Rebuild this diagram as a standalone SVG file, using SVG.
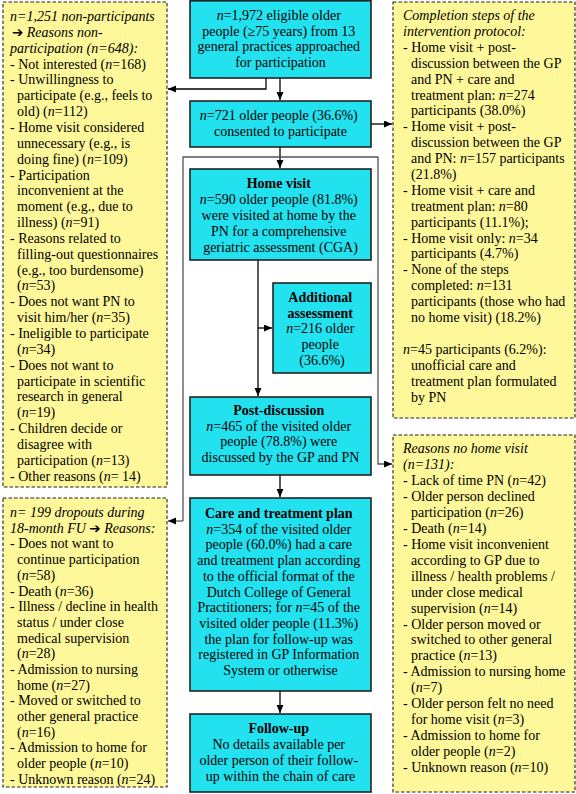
<svg xmlns="http://www.w3.org/2000/svg" width="576" height="794" viewBox="0 0 576 794">
<style>
text{font-family:"Liberation Serif","Times New Roman",serif;font-size:14px;fill:#000}
.i{font-style:italic}
.b{font-weight:bold}
.c{text-anchor:middle}
.arw{font-family:"DejaVu Sans",sans-serif;font-style:normal;font-weight:bold;font-size:13.5px}
.note{fill:#FFF89A;stroke:#222;stroke-width:1.1;stroke-dasharray:3.5,2}
.box{fill:#22E2EF;stroke:#222;stroke-width:1.6}
.ln{fill:none;stroke:#000;stroke-width:1.3}
.ln2{fill:none;stroke:#555;stroke-width:1.3}
</style>
<defs>
<marker id="ah" markerUnits="userSpaceOnUse" markerWidth="9" markerHeight="8" refX="8" refY="3.5" orient="auto">
<path d="M0,0 L8,3.5 L0,7 z" fill="#000"/>
</marker>
</defs>
<rect width="576" height="794" fill="#fff"/>

<g id="connectors">
<path class="ln" d="M266,78 V89 H168" marker-end="url(#ah)"/>
<path class="ln" d="M280,78 V100" marker-end="url(#ah)"/>
<path class="ln" d="M371,124 H392" marker-end="url(#ah)"/>
<path class="ln" d="M280,147 V168" marker-end="url(#ah)"/>
<path class="ln2" d="M183,521 V157 H378 V464 H392" marker-end="url(#ah)"/>
<path class="ln2" d="M183,521 H168" marker-end="url(#ah)"/>
<path class="ln" d="M258,260 V396" marker-end="url(#ah)"/>
<path class="ln" d="M258,328 H272" marker-end="url(#ah)"/>
<path class="ln" d="M280,475 V497" marker-end="url(#ah)"/>
<path class="ln" d="M280,691 V713" marker-end="url(#ah)"/>
</g>

<g id="nonparticipants">
<rect class="note" x="3" y="2" width="164" height="485"/>
<text y="5.15">
<tspan class="i" x="10" dy="15.85">n=1,251 non-participants</tspan>
<tspan class="i" x="12" dy="15.85"><tspan class="arw">➔</tspan> Reasons non-</tspan>
<tspan class="i" x="10" dy="15.85">participation (n=648):</tspan>
<tspan x="10" dy="15.85">- Not interested (<tspan class="i">n</tspan>=168)</tspan>
<tspan x="10" dy="15.85">- Unwillingness to</tspan>
<tspan x="17" dy="15.85">participate (e.g., feels to</tspan>
<tspan x="17" dy="15.85">old) (<tspan class="i">n</tspan>=112)</tspan>
<tspan x="10" dy="15.85">- Home visit considered</tspan>
<tspan x="17" dy="15.85">unnecessary (e.g., is</tspan>
<tspan x="17" dy="15.85">doing fine) (<tspan class="i">n</tspan>=109)</tspan>
<tspan x="10" dy="15.85">- Participation</tspan>
<tspan x="17" dy="15.85">inconvenient at the</tspan>
<tspan x="17" dy="15.85">moment (e.g., due to</tspan>
<tspan x="17" dy="15.85">illness) (<tspan class="i">n</tspan>=91)</tspan>
<tspan x="10" dy="15.85">- Reasons related to</tspan>
<tspan x="17" dy="15.85">filling-out questionnaires</tspan>
<tspan x="17" dy="15.85">(e.g., too burdensome)</tspan>
<tspan x="17" dy="15.85">(<tspan class="i">n</tspan>=53)</tspan>
<tspan x="10" dy="15.85">- Does not want PN to</tspan>
<tspan x="17" dy="15.85">visit him/her (<tspan class="i">n</tspan>=35)</tspan>
<tspan x="10" dy="15.85">- Ineligible to participate</tspan>
<tspan x="17" dy="15.85">(<tspan class="i">n</tspan>=34)</tspan>
<tspan x="10" dy="15.85">- Does not want to</tspan>
<tspan x="17" dy="15.85">participate in scientific</tspan>
<tspan x="17" dy="15.85">research in general</tspan>
<tspan x="17" dy="15.85">(<tspan class="i">n</tspan>=19)</tspan>
<tspan x="10" dy="15.85">- Children decide or</tspan>
<tspan x="17" dy="15.85">disagree with</tspan>
<tspan x="17" dy="15.85">participation (<tspan class="i">n</tspan>=13)</tspan>
<tspan x="10" dy="15.85">- Other reasons (<tspan class="i">n</tspan>= 14)</tspan>
</text>
</g>

<g id="dropouts">
<rect class="note" x="3" y="498" width="164" height="289"/>
<text y="501.3">
<tspan class="i" x="10" dy="15.7">n= 199 dropouts during</tspan>
<tspan class="i" x="10" dy="15.7">18-month FU <tspan class="arw">➔</tspan> Reasons:</tspan>
<tspan x="10" dy="15.7">- Does not want to</tspan>
<tspan x="17" dy="15.7">continue participation</tspan>
<tspan x="17" dy="15.7">(<tspan class="i">n</tspan>=58)</tspan>
<tspan x="10" dy="15.7">- Death (<tspan class="i">n</tspan>=36)</tspan>
<tspan x="10" dy="15.7">- Illness / decline in health</tspan>
<tspan x="17" dy="15.7">status / under close</tspan>
<tspan x="17" dy="15.7">medical supervision</tspan>
<tspan x="17" dy="15.7">(<tspan class="i">n</tspan>=28)</tspan>
<tspan x="10" dy="15.7">- Admission to nursing</tspan>
<tspan x="17" dy="15.7">home (<tspan class="i">n</tspan>=27)</tspan>
<tspan x="10" dy="15.7">- Moved or switched to</tspan>
<tspan x="17" dy="15.7">other general practice</tspan>
<tspan x="17" dy="15.7">(<tspan class="i">n</tspan>=16)</tspan>
<tspan x="10" dy="15.7">- Admission to home for</tspan>
<tspan x="17" dy="15.7">older people (<tspan class="i">n</tspan>=10)</tspan>
<tspan x="10" dy="15.7">- Unknown reason (<tspan class="i">n</tspan>=24)</tspan>
</text>
</g>

<g id="eligible">
<rect class="box" x="190" y="0.8" width="181" height="77.2"/>
<text class="c" y="4.3">
<tspan x="280.5" dy="15.7"><tspan class="i">n</tspan>=1,972 eligible older</tspan>
<tspan x="280.5" dy="15.7">people (≥75 years) from 13</tspan>
<tspan x="280.5" dy="15.7">general practices approached</tspan>
<tspan x="280.5" dy="15.7">for participation</tspan>
</text>
</g>

<g id="consented">
<rect class="box" x="190" y="101" width="181" height="46"/>
<text class="c" y="104.3">
<tspan x="280.5" dy="15.7"><tspan class="i">n</tspan>=721 older people (36.6%)</tspan>
<tspan x="280.5" dy="15.7">consented to participate</tspan>
</text>
</g>

<g id="homevisit">
<rect class="box" x="190" y="169" width="181" height="91"/>
<text class="c" y="172.3">
<tspan class="b" x="280.5" dy="15.9">Home visit</tspan>
<tspan x="280.5" dy="15.9"><tspan class="i">n</tspan>=590 older people (81.8%)</tspan>
<tspan x="280.5" dy="15.9">were visited at home by the</tspan>
<tspan x="280.5" dy="15.9">PN for a comprehensive</tspan>
<tspan x="280.5" dy="15.9">geriatric assessment (CGA)</tspan>
</text>
</g>

<g id="additional">
<rect class="box" x="273" y="283" width="98" height="90"/>
<text class="c" y="286.3">
<tspan class="b" x="322" dy="15.7">Additional</tspan>
<tspan class="b" x="322" dy="15.7">assessment</tspan>
<tspan x="322" dy="15.7"><tspan class="i">n</tspan>=216 older</tspan>
<tspan x="322" dy="15.7">people</tspan>
<tspan x="322" dy="15.7">(36.6%)</tspan>
</text>
</g>

<g id="postdiscussion">
<rect class="box" x="190" y="397" width="181" height="78"/>
<text class="c" y="399.3">
<tspan class="b" x="280.5" dy="15.7">Post-discussion</tspan>
<tspan x="280.5" dy="15.7"><tspan class="i">n</tspan>=465 of the visited older</tspan>
<tspan x="280.5" dy="15.7">people (78.8%) were</tspan>
<tspan x="280.5" dy="15.7">discussed by the GP and PN</tspan>
</text>
</g>

<g id="careplan">
<rect class="box" x="190" y="498" width="181" height="193"/>
<text class="c" y="502.3">
<tspan class="b" x="280.5" dy="15.7">Care and treatment plan</tspan>
<tspan x="280.5" dy="15.7"><tspan class="i">n</tspan>=354 of the visited older</tspan>
<tspan x="280.5" dy="15.7">people (60.0%) had a care</tspan>
<tspan x="280.5" dy="15.7">and treatment plan according</tspan>
<tspan x="280.5" dy="15.7">to the official format of the</tspan>
<tspan x="280.5" dy="15.7">Dutch College of General</tspan>
<tspan x="280.5" dy="15.7">Practitioners; for <tspan class="i">n</tspan>=45 of the</tspan>
<tspan x="280.5" dy="15.7">visited older people (11.3%)</tspan>
<tspan x="280.5" dy="15.7">the plan for follow-up was</tspan>
<tspan x="280.5" dy="15.7">registered in GP Information</tspan>
<tspan x="280.5" dy="15.7">System or otherwise</tspan>
</text>
</g>

<g id="followup">
<rect class="box" x="190" y="714" width="181" height="78"/>
<text class="c" y="716.8">
<tspan class="b" x="280.5" dy="16">Follow-up</tspan>
<tspan x="280.5" dy="16">No details available per</tspan>
<tspan x="280.5" dy="16">older person of their follow-</tspan>
<tspan x="280.5" dy="16">up within the chain of care</tspan>
</text>
</g>

<g id="completion">
<rect class="note" x="393" y="2" width="182" height="416"/>
<text y="4.1">
<tspan class="i" x="403" dy="15.9">Completion steps of the</tspan>
<tspan class="i" x="403" dy="15.9">intervention protocol:</tspan>
<tspan x="403" dy="15.9">- Home visit + post-</tspan>
<tspan x="411" dy="15.9">discussion between the GP</tspan>
<tspan x="411" dy="15.9">and PN + care and</tspan>
<tspan x="411" dy="15.9">treatment plan: <tspan class="i">n</tspan>=274</tspan>
<tspan x="411" dy="15.9">participants (38.0%)</tspan>
<tspan x="403" dy="15.9">- Home visit + post-</tspan>
<tspan x="411" dy="15.9">discussion between the GP</tspan>
<tspan x="411" dy="15.9">and PN: <tspan class="i">n</tspan>=157 participants</tspan>
<tspan x="411" dy="15.9">(21.8%)</tspan>
<tspan x="403" dy="15.9">- Home visit + care and</tspan>
<tspan x="411" dy="15.9">treatment plan: <tspan class="i">n</tspan>=80</tspan>
<tspan x="411" dy="15.9">participants (11.1%);</tspan>
<tspan x="403" dy="15.9">- Home visit only: <tspan class="i">n</tspan>=34</tspan>
<tspan x="411" dy="15.9">participants (4.7%)</tspan>
<tspan x="403" dy="15.9">- None of the steps</tspan>
<tspan x="411" dy="15.9">completed: <tspan class="i">n</tspan>=131</tspan>
<tspan x="411" dy="15.9">participants (those who had</tspan>
<tspan x="411" dy="15.9">no home visit) (18.2%)</tspan>
<tspan x="403" dy="31.8"><tspan class="i">n</tspan>=45 participants (6.2%):</tspan>
<tspan x="411" dy="15.9">unofficial care and</tspan>
<tspan x="411" dy="15.9">treatment plan formulated</tspan>
<tspan x="411" dy="15.9">by PN</tspan>
</text>
</g>

<g id="nohomevisit">
<rect class="note" x="393" y="435" width="182" height="357"/>
<text y="437.1">
<tspan class="i" x="403" dy="15.95">Reasons no home visit</tspan>
<tspan class="i" x="403" dy="15.95">(n=131):</tspan>
<tspan x="403" dy="15.95">- Lack of time PN (<tspan class="i">n</tspan>=42)</tspan>
<tspan x="403" dy="15.95">- Older person declined</tspan>
<tspan x="411" dy="15.95">participation (<tspan class="i">n</tspan>=26)</tspan>
<tspan x="403" dy="15.95">- Death (<tspan class="i">n</tspan>=14)</tspan>
<tspan x="403" dy="15.95">- Home visit inconvenient</tspan>
<tspan x="411" dy="15.95">according to GP due to</tspan>
<tspan x="411" dy="15.95">illness / health problems /</tspan>
<tspan x="411" dy="15.95">under close medical</tspan>
<tspan x="411" dy="15.95">supervision (<tspan class="i">n</tspan>=14)</tspan>
<tspan x="403" dy="15.95">- Older person moved or</tspan>
<tspan x="411" dy="15.95">switched to other general</tspan>
<tspan x="411" dy="15.95">practice (<tspan class="i">n</tspan>=13)</tspan>
<tspan x="403" dy="15.95">- Admission to nursing home</tspan>
<tspan x="411" dy="15.95">(<tspan class="i">n</tspan>=7)</tspan>
<tspan x="403" dy="15.95">- Older person felt no need</tspan>
<tspan x="411" dy="15.95">for home visit (<tspan class="i">n</tspan>=3)</tspan>
<tspan x="403" dy="15.95">- Admission to home for</tspan>
<tspan x="411" dy="15.95">older people (<tspan class="i">n</tspan>=2)</tspan>
<tspan x="403" dy="15.95">- Unknown reason (<tspan class="i">n</tspan>=10)</tspan>
</text>
</g>
</svg>
